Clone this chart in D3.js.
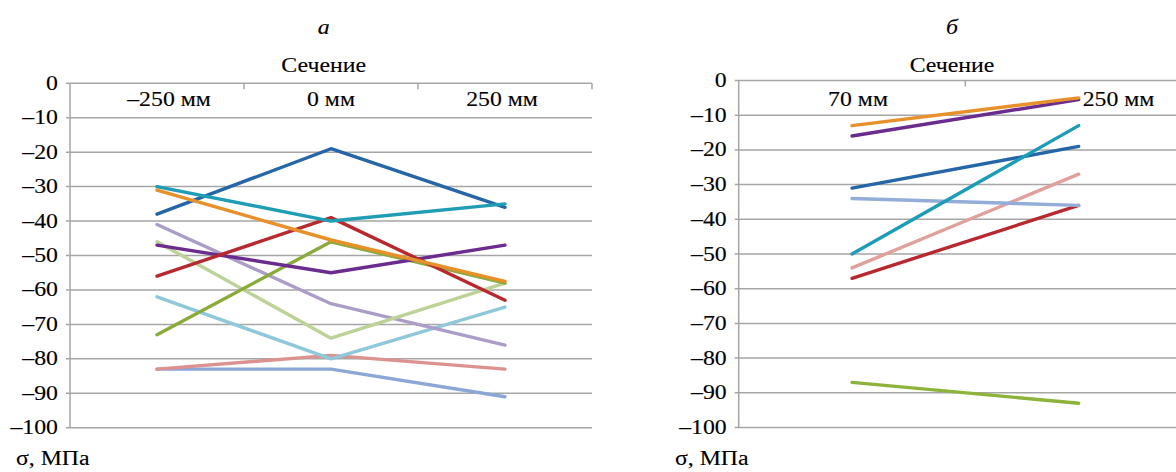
<!DOCTYPE html>
<html>
<head>
<meta charset="utf-8">
<script src="https://cdn.jsdelivr.net/npm/d3@7"></script>
<style>
  html, body { margin: 0; padding: 0; background: #fff; }
  svg { display: block; font-family: "Liberation Serif", "Times New Roman", serif; }
</style>
</head>
<body>
<div id="chart"></div>
<script>
// panel a
const catsA = ["–250 мм", "0 мм", "250 мм"];
const seriesA = [
  { color: "#8ba7d6", values: [-83, -83, -91] },
  { color: "#dc9290", values: [-83, -79, -83] },
  { color: "#8fc8da", values: [-62, -80, -65] },
  { color: "#ab9dc8", values: [-41, -64, -76] },
  { color: "#bcd296", values: [-46, -74, -58] },
  { color: "#8aab3b", values: [-73, -46, -58] },
  { color: "#6a2c8e", values: [-47, -55, -47] },
  { color: "#b8292f", values: [-56, -39, -63] },
  { color: "#2566a8", values: [-38, -19, -36] },
  { color: "#1f9db5", values: [-30, -40, -35] },
  { color: "#e8902a", values: [-31, -45.5, -57.5] }
];

// panel б
const catsB = ["70 мм", "250 мм"];
const seriesB = [
  { color: "#8db33a", values: [-87, -93] },
  { color: "#b8292f", values: [-57, -36] },
  { color: "#e0a09c", values: [-54, -27] },
  { color: "#93acd8", values: [-34, -36] },
  { color: "#2566a8", values: [-31, -19] },
  { color: "#1d9cb8", values: [-50, -13] },
  { color: "#6a2c8e", values: [-16, -5.5] },
  { color: "#e8902a", values: [-13, -5] }
];

const yTicks = [0, -10, -20, -30, -40, -50, -60, -70, -80, -90, -100];
const yDomain = [-100, 0];

const W = 1176, H = 472;
const FS = 20;        // font size
const SX = 1.19;      // the source picture is stretched horizontally
const gridColor = "#a6a6a6";

const svg = d3.select("#chart").append("svg")
  .attr("width", W)
  .attr("height", H);

// text with the horizontal stretch of the scan
function label(g, x, y, str, anchor, italic) {
  return g.append("text")
    .attr("transform", `translate(${x},${y}) scale(${SX},1)`)
    .attr("text-anchor", anchor || "middle")
    .attr("font-size", FS)
    .attr("font-style", italic ? "italic" : "normal")
    .attr("fill", "#000")
    .attr("stroke", "#000")
    .attr("stroke-width", 0.12)
    .text(str);
}

function fmt(v) {
  return v < 0 ? "–" + Math.abs(v) : String(v);
}

function drawPanel(opt) {
  const g = svg.append("g");
  const x = d3.scaleBand().domain(opt.cats).range([opt.left, opt.right]).padding(0);
  const y = d3.scaleLinear().domain(yDomain).range([opt.bottom, opt.top]);
  const gridEnd = Math.min(opt.right, W);

  // horizontal gridlines
  g.selectAll(".grid").data(yTicks).enter().append("line")
    .attr("class", "grid")
    .attr("x1", opt.left - 4)
    .attr("x2", gridEnd)
    .attr("y1", d => y(d))
    .attr("y2", d => y(d))
    .attr("stroke", gridColor)
    .attr("stroke-width", 1.5);

  // vertical axis
  g.append("line")
    .attr("x1", opt.left).attr("x2", opt.left)
    .attr("y1", y(0)).attr("y2", y(-100))
    .attr("stroke", gridColor)
    .attr("stroke-width", 1.5);

  // category ticks on the zero line
  const bounds = opt.cats.map((c, i) => x(c) + x.bandwidth());
  g.selectAll(".ctick").data(bounds).enter().append("line")
    .attr("class", "ctick")
    .attr("x1", d => d).attr("x2", d => d)
    .attr("y1", y(0)).attr("y2", y(0) + 6)
    .attr("stroke", gridColor)
    .attr("stroke-width", 1.5);

  // y tick labels
  yTicks.forEach(v => label(g, opt.left - 12, y(v) + 6.5, fmt(v), "end"));

  // category labels
  opt.cats.forEach((c, i) => {
    const cx = x(c) + x.bandwidth() / 2 + (opt.labelDx[i] || 0);
    label(g, cx, 106, c, opt.labelAnchor[i] || "middle");
  });

  // lines
  const line = d3.line()
    .x((d, i) => x(opt.cats[i]) + x.bandwidth() / 2)
    .y(d => y(d));
  g.selectAll(".series").data(opt.series).enter().append("path")
    .attr("class", "series")
    .attr("d", d => line(d.values))
    .attr("fill", "none")
    .attr("stroke", d => d.color)
    .attr("stroke-width", 3.4)
    .attr("stroke-linecap", "round")
    .attr("stroke-linejoin", "round");

  // titles
  label(g, opt.titleX, 34, opt.title, "middle", true);
  label(g, opt.titleX, 71.5, "Сечение", "middle");
  label(g, opt.unitX, 465, "σ, МПа", "start");
}

drawPanel({
  cats: catsA, series: seriesA,
  left: 70, right: 592, top: 83.3, bottom: 427.7,
  labelDx: [12, 0, -3], labelAnchor: [],
  title: "а", titleX: 323.7, unitX: 16
});

drawPanel({
  cats: catsB, series: seriesB,
  left: 738.7, right: 1192, top: 80.5, bottom: 427.5,
  labelDx: [6, 4], labelAnchor: ["middle", "start"],
  title: "б", titleX: 952, unitX: 675
});
</script>
</body>
</html>
